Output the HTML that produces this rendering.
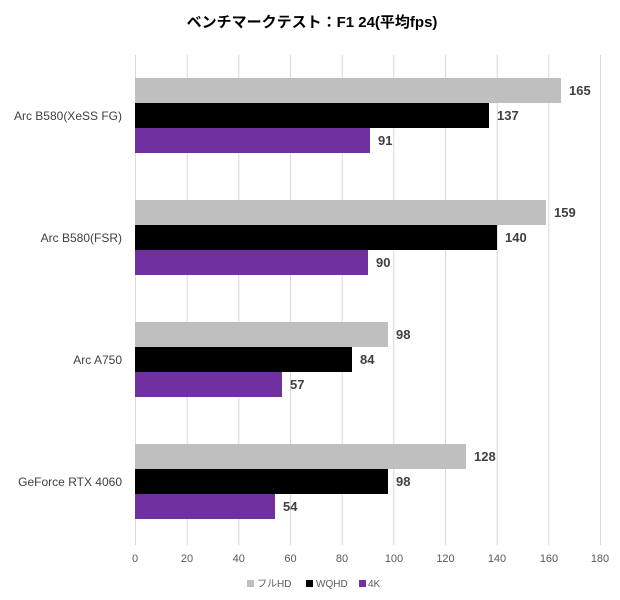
<!DOCTYPE html>
<html><head><meta charset="utf-8"><style>
html,body{margin:0;padding:0;background:#fff;}
svg{display:block;font-family:"Liberation Sans","Noto Sans CJK JP",sans-serif;}
</style></head><body>
<svg width="620" height="600" viewBox="0 0 620 600" xmlns="http://www.w3.org/2000/svg">
<rect width="620" height="600" fill="#fff"/>
<text x="312" y="27" text-anchor="middle" font-size="15" font-weight="bold" fill="#000">ベンチマークテスト：F1 24(平均fps)</text>
<g stroke="#d9d9d9" stroke-width="1">
<line x1="135.5" y1="55" x2="135.5" y2="545"/>
<line x1="187.2" y1="55" x2="187.2" y2="545"/>
<line x1="238.8" y1="55" x2="238.8" y2="545"/>
<line x1="290.5" y1="55" x2="290.5" y2="545"/>
<line x1="342.2" y1="55" x2="342.2" y2="545"/>
<line x1="393.8" y1="55" x2="393.8" y2="545"/>
<line x1="445.5" y1="55" x2="445.5" y2="545"/>
<line x1="497.2" y1="55" x2="497.2" y2="545"/>
<line x1="548.8" y1="55" x2="548.8" y2="545"/>
<line x1="600.5" y1="55" x2="600.5" y2="545"/>
</g>
<g>
<rect x="135" y="78" width="426" height="25" fill="#bfbfbf"/>
<rect x="135" y="103" width="354" height="25" fill="#000"/>
<rect x="135" y="128" width="235" height="25" fill="#7030a0"/>
<rect x="135" y="200" width="411" height="25" fill="#bfbfbf"/>
<rect x="135" y="225" width="362" height="25" fill="#000"/>
<rect x="135" y="250" width="233" height="25" fill="#7030a0"/>
<rect x="135" y="322" width="253" height="25" fill="#bfbfbf"/>
<rect x="135" y="347" width="217" height="25" fill="#000"/>
<rect x="135" y="372" width="147" height="25" fill="#7030a0"/>
<rect x="135" y="444" width="331" height="25" fill="#bfbfbf"/>
<rect x="135" y="469" width="253" height="25" fill="#000"/>
<rect x="135" y="494" width="140" height="25" fill="#7030a0"/>
</g>
<g font-size="13" font-weight="bold" fill="#404040">
<text x="569" y="95">165</text>
<text x="497" y="120">137</text>
<text x="378" y="145">91</text>
<text x="554" y="217">159</text>
<text x="505" y="242">140</text>
<text x="376" y="267">90</text>
<text x="396" y="339">98</text>
<text x="360" y="364">84</text>
<text x="290" y="389">57</text>
<text x="474" y="461">128</text>
<text x="396" y="486">98</text>
<text x="283" y="511">54</text>
</g>
<g font-size="12" fill="#404040" text-anchor="end">
<text x="122" y="120">Arc B580(XeSS FG)</text>
<text x="122" y="242">Arc B580(FSR)</text>
<text x="122" y="364">Arc A750</text>
<text x="122" y="486">GeForce RTX 4060</text>
</g>
<g font-size="11" fill="#595959" text-anchor="middle">
<text x="135" y="562">0</text>
<text x="187" y="562">20</text>
<text x="238.8" y="562">40</text>
<text x="290.5" y="562">60</text>
<text x="342" y="562">80</text>
<text x="394" y="562">100</text>
<text x="445.5" y="562">120</text>
<text x="497" y="562">140</text>
<text x="549" y="562">160</text>
<text x="600" y="562">180</text>
</g>
<g font-size="10" fill="#595959">
<rect x="247" y="580" width="7" height="7" fill="#bfbfbf"/>
<text x="257" y="587">フルHD</text>
<rect x="306" y="580" width="7" height="7" fill="#000"/>
<text x="316" y="587">WQHD</text>
<rect x="359" y="580" width="7" height="7" fill="#7030a0"/>
<text x="368" y="587">4K</text>
</g>
</svg>
</body></html>
